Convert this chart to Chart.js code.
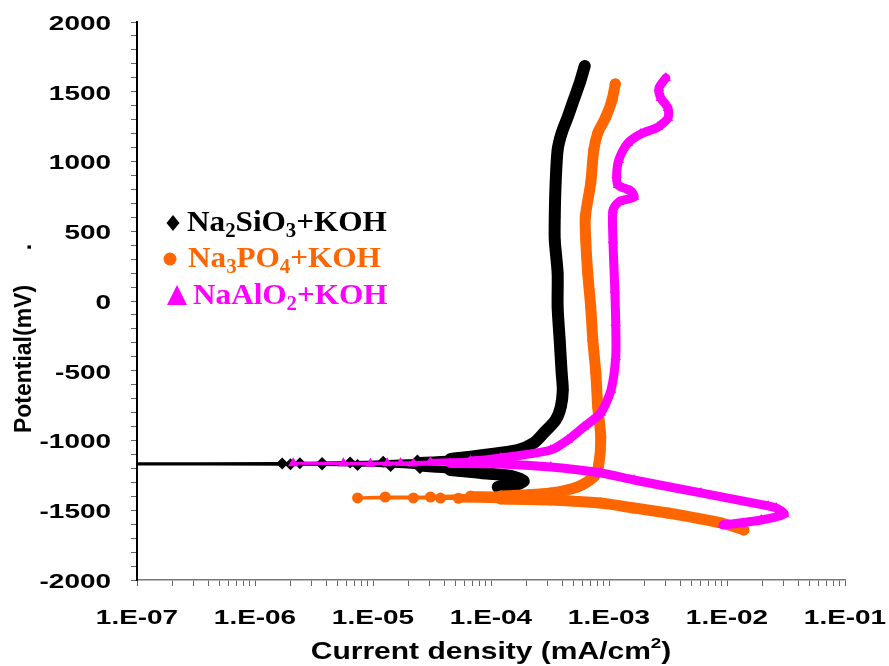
<!DOCTYPE html>
<html>
<head>
<meta charset="utf-8">
<script src="https://cdn.jsdelivr.net/npm/chart.js@4/dist/chart.umd.min.js"></script>
<style>
  html, body { margin: 0; padding: 0; background: #fff; }
</style>
</head>
<body>
<canvas id="chart" width="889" height="666"></canvas>
<script>
// Na2SiO3+KOH, scan order: cathodic start -> Ecorr -> anodic end
const silicateCurrent = [
  1.14e-4, 1.62e-4, 1.89e-4, 1.47e-4, 8.2e-5, 4.5e-5, 2.5e-5, 1.41e-5, 7.4e-6, 3.7e-6, 2.0e-6,
  5e-8,
  1.7e-6, 2.4e-6, 3.7e-6, 6.4e-6, 1.22e-5, 2.38e-5, 4.54e-5, 8.65e-5, 1.68e-4, 2.30e-4,
  2.80e-4, 3.53e-4, 3.90e-4, 4.06e-4, 3.97e-4, 3.82e-4, 3.67e-4, 3.67e-4, 3.47e-4, 3.47e-4,
  3.53e-4, 3.67e-4, 3.97e-4, 4.47e-4, 5.02e-4, 5.65e-4, 6.23e-4
];
const silicatePotential = [
  -1333, -1319, -1290, -1254, -1233, -1211, -1197, -1183, -1175, -1172, -1170,
  -1168,
  -1165, -1163, -1162, -1158, -1152, -1143, -1132, -1104, -1068, -1018,
  -946, -853, -760, -638, -516, -279, -43, 201, 437, 602,
  846, 1082, 1204, 1319, 1441, 1563, 1685
];

// Na3PO4+KOH
const phosphateCurrent = [
  1.39e-2, 8.89e-3, 3.16e-3, 1.63e-3, 8.51e-4, 3.21e-4, 1.21e-4, 5.3e-5, 3.73e-5, 2.2e-5, 7.4e-6,
  1.27e-5, 3.07e-5, 6.71e-5, 1.21e-4, 3.21e-4, 5.43e-4, 7.43e-4, 8.18e-4, 8.51e-4, 8.03e-4,
  7.73e-4, 7.29e-4, 7.0e-4, 6.6e-4, 6.35e-4, 6.3e-4, 7.0e-4, 7.43e-4, 8.03e-4, 9.4e-4,
  1.06e-3, 1.13e-3
];
const phosphatePotential = [
  -1641, -1591, -1520, -1484, -1448, -1426, -1419, -1414, -1413, -1412, -1412,
  -1405, -1405, -1398, -1398, -1376, -1333, -1261, -1175, -975, -760,
  -516, -279, -43, 201, 437, 602, 846, 1082, 1204, 1319,
  1441, 1556
];

// NaAlO2+KOH
const aluminateCurrent = [
  9.25e-3, 1.95e-2, 3.05e-2, 2.61e-2, 2.23e-2, 6.01e-3, 1.63e-3, 8.51e-4, 3.21e-4, 1.21e-4,
  4.54e-5, 2.2e-5, 1.32e-5, 5.61e-6, 2.11e-6,
  9.5e-6, 1.71e-5, 3.07e-5, 6.71e-5, 1.21e-4, 3.21e-4, 4.47e-4, 6.11e-4, 8.51e-4, 1.04e-3,
  1.14e-3, 1.14e-3, 1.12e-3, 1.08e-3, 1.08e-3, 1.21e-3, 1.63e-3, 1.53e-3, 1.19e-3, 1.16e-3,
  1.21e-3, 1.45e-3, 1.86e-3, 2.60e-3, 3.16e-3, 3.16e-3, 2.75e-3, 2.65e-3, 3.03e-3
];
const aluminatePotential = [
  -1606, -1570, -1527, -1484, -1469, -1376, -1283, -1233, -1190, -1168,
  -1165, -1165, -1163, -1163, -1163,
  -1166, -1161, -1154, -1147, -1125, -1068, -996, -903, -803, -638,
  -401, -158, 79, 437, 652, 710, 746, 789, 832, 903,
  1011, 1133, 1197, 1247, 1312, 1384, 1455, 1527, 1599
];

// axes
const xDecades = [1e-7, 1e-6, 1e-5, 1e-4, 1e-3, 1e-2, 1e-1];
const xDecadeLabels = ["1.E-07", "1.E-06", "1.E-05", "1.E-04", "1.E-03", "1.E-02", "1.E-01"];
const yLabelValues = [2000, 1500, 1000, 500, 0, -500, -1000, -1500, -2000];
const yTickLabels = ["2000", "1500", "1000", "500", "0", "-500", "-1000", "-1500", "-2000"];
const yMinorStep = 100;

// legend text: [text, isSubscript]
const legendSilicate = [["Na", 0], ["2", 1], ["SiO", 0], ["3", 1], ["+KOH", 0]];
const legendPhosphate = [["Na", 0], ["3", 1], ["PO", 0], ["4", 1], ["+KOH", 0]];
const legendAluminate = [["NaAlO", 0], ["2", 1], ["+KOH", 0]];

const BLACK = "#000000";
const ORANGE = "#FF6600";
const MAGENTA = "#FF00FF";

// x tick marks: every 1..9 of each decade
const xTickValues = [];
for (let d = 0; d < xDecades.length - 1; d++) {
  for (let m = 1; m < 10; m++) xTickValues.push(xDecades[d] * m);
}
xTickValues.push(xDecades[xDecades.length - 1]);
const yTickValues = [];
for (let v = -2000; v <= 2000; v += yMinorStep) yTickValues.push(v);

const toPoints = (xs, ys) => xs.map((x, i) => ({ x: x, y: ys[i] }));

// line gets thick where the recorded points crowd together
function bandWidth(c, style) {
  const xs = c.chart.scales.x;
  const a = xs.getPixelForValue(style.thinUntil);
  const b = xs.getPixelForValue(style.thickFrom);
  const px = (c.p0.x + c.p1.x) / 2;
  const t = Math.max(0, Math.min(1, (px - a) / (b - a)));
  return style.thin + (style.thick - style.thin) * t;
}
const silicateStyle = { thin: 3, thick: 12, thinUntil: 2e-5, thickFrom: 6e-5 };
const phosphateStyle = { thin: 3, thick: 11, thinUntil: 4e-5, thickFrom: 1.1e-4 };
const aluminateStyle = { thin: 3, thick: 9, thinUntil: 2.5e-5, thickFrom: 7e-5 };

function stretchText(ctx, text, x, y, sx, align) {
  ctx.save();
  ctx.translate(x, y);
  ctx.scale(sx, 1);
  ctx.textAlign = align;
  ctx.fillText(text, 0, 0);
  ctx.restore();
}

function drawRich(ctx, parts, x, y, color, size, subSize, sx) {
  ctx.save();
  ctx.translate(x, y);
  ctx.scale(sx, 1);
  ctx.fillStyle = color;
  ctx.textAlign = "left";
  ctx.textBaseline = "alphabetic";
  let cx = 0;
  parts.forEach(([t, sub]) => {
    ctx.font = "bold " + (sub ? subSize : size) + 'px "Liberation Serif", "Times New Roman", serif';
    ctx.fillText(t, cx, sub ? 6 : 0);
    cx += ctx.measureText(t).width;
  });
  ctx.restore();
}

const textPlugin = {
  id: "textPlugin",
  afterDraw(chart) {
    const { ctx } = chart;
    const x = chart.scales.x, y = chart.scales.y;
    ctx.save();
    ctx.fillStyle = "#000";
    const sans = '"Liberation Sans", Arial, sans-serif';

    // y tick labels
    ctx.font = "bold 21px " + sans;
    ctx.textBaseline = "middle";
    yLabelValues.forEach((v, i) => {
      stretchText(ctx, yTickLabels[i], 111, y.getPixelForValue(v) + 2, 1.33, "right");
    });

    // x tick labels
    xDecades.forEach((v, i) => {
      stretchText(ctx, xDecadeLabels[i], x.getPixelForValue(v), 618, 1.33, "center");
    });

    // x title with superscript
    ctx.textBaseline = "alphabetic";
    const mainTxt = "Current density (mA/cm";
    ctx.font = "bold 24px " + sans;
    const w1 = ctx.measureText(mainTxt).width;
    const w3 = ctx.measureText(")").width;
    ctx.font = "bold 15px " + sans;
    const w2 = ctx.measureText("2").width;
    const sx = 1.25;
    const total = (w1 + w2 + w3) * sx;
    let left = (x.left + x.right) / 2 - total / 2;
    ctx.save();
    ctx.translate(left, 659);
    ctx.scale(sx, 1);
    ctx.textAlign = "left";
    ctx.font = "bold 24px " + sans;
    ctx.fillText(mainTxt, 0, 0);
    ctx.font = "bold 15px " + sans;
    ctx.fillText("2", w1, -11);
    ctx.font = "bold 24px " + sans;
    ctx.fillText(")", w1 + w2, 0);
    ctx.restore();

    // y title
    ctx.save();
    ctx.translate(31, 359);
    ctx.rotate(-Math.PI / 2);
    ctx.font = "bold 23px " + sans;
    ctx.textAlign = "center";
    ctx.fillText("Potential(mV)", 0, 0);
    ctx.restore();
    ctx.save();
    ctx.translate(31, 247);
    ctx.rotate(-Math.PI / 2);
    ctx.font = "bold 23px " + sans;
    ctx.textAlign = "center";
    ctx.fillText(".", 0, 0);
    ctx.restore();

    // legend markers
    ctx.fillStyle = BLACK;
    ctx.beginPath();
    ctx.moveTo(173, 215); ctx.lineTo(179.5, 223); ctx.lineTo(173, 231); ctx.lineTo(166.5, 223);
    ctx.closePath(); ctx.fill();
    ctx.fillStyle = ORANGE;
    ctx.beginPath();
    ctx.arc(170, 259, 6.5, 0, Math.PI * 2);
    ctx.fill();
    ctx.fillStyle = MAGENTA;
    ctx.beginPath();
    ctx.moveTo(177, 285); ctx.lineTo(187, 305); ctx.lineTo(167, 305);
    ctx.closePath(); ctx.fill();

    // legend text
    drawRich(ctx, legendSilicate, 187, 231, BLACK, 30, 20, 1.04);
    drawRich(ctx, legendPhosphate, 188, 267, ORANGE, 30, 20, 1.04);
    drawRich(ctx, legendAluminate, 193, 304, MAGENTA, 30, 20, 1.04);
    ctx.restore();
  }
};

new Chart(document.getElementById("chart"), {
  type: "line",
  data: {
    datasets: [
      {
        label: "NaAlO2+KOH",
        data: toPoints(aluminateCurrent, aluminatePotential),
        borderColor: MAGENTA,
        backgroundColor: MAGENTA,
        pointStyle: "triangle",
        pointRadius: 6,
        pointBorderWidth: 0,
        borderWidth: 9,
        borderCapStyle: "round",
        borderJoinStyle: "round",
        tension: 0.25,
        segment: { borderWidth: c => bandWidth(c, aluminateStyle) },
        order: 0
      },
      {
        label: "Na3PO4+KOH",
        data: toPoints(phosphateCurrent, phosphatePotential),
        borderColor: ORANGE,
        backgroundColor: ORANGE,
        pointStyle: "circle",
        pointRadius: 5.5,
        pointBorderWidth: 0,
        borderWidth: 11,
        borderCapStyle: "round",
        borderJoinStyle: "round",
        tension: 0.25,
        segment: { borderWidth: c => bandWidth(c, phosphateStyle) },
        order: 1
      },
      {
        label: "Na2SiO3+KOH",
        data: toPoints(silicateCurrent, silicatePotential),
        borderColor: BLACK,
        backgroundColor: BLACK,
        pointStyle: "rectRot",
        pointRadius: 6,
        pointBorderWidth: 0,
        borderWidth: 12,
        borderCapStyle: "round",
        borderJoinStyle: "round",
        tension: 0.25,
        segment: { borderWidth: c => bandWidth(c, silicateStyle) },
        order: 2
      }
    ]
  },
  options: {
    responsive: false,
    animation: false,
    layout: { padding: { left: 131, top: 22, right: 44, bottom: 80 } },
    plugins: { legend: { display: false }, tooltip: { enabled: false } },
    scales: {
      x: {
        type: "logarithmic",
        min: 1e-7,
        max: 1e-1,
        afterBuildTicks: s => { s.ticks = xTickValues.map(v => ({ value: v })); },
        ticks: { display: false, autoSkip: false },
        grid: { display: true, drawOnChartArea: false, drawTicks: true, tickLength: 6, tickColor: "#666", lineWidth: 1 },
        border: { display: true, color: "#777", width: 1.5 }
      },
      y: {
        type: "linear",
        min: -2000,
        max: 2000,
        afterBuildTicks: s => { s.ticks = yTickValues.map(v => ({ value: v })); },
        ticks: { display: false, autoSkip: false },
        grid: { display: true, drawOnChartArea: false, drawTicks: true, tickLength: 6, tickColor: "#666", lineWidth: 1 },
        border: { display: true, color: "#000", width: 2 }
      }
    }
  },
  plugins: [textPlugin]
});
</script>
</body>
</html>
